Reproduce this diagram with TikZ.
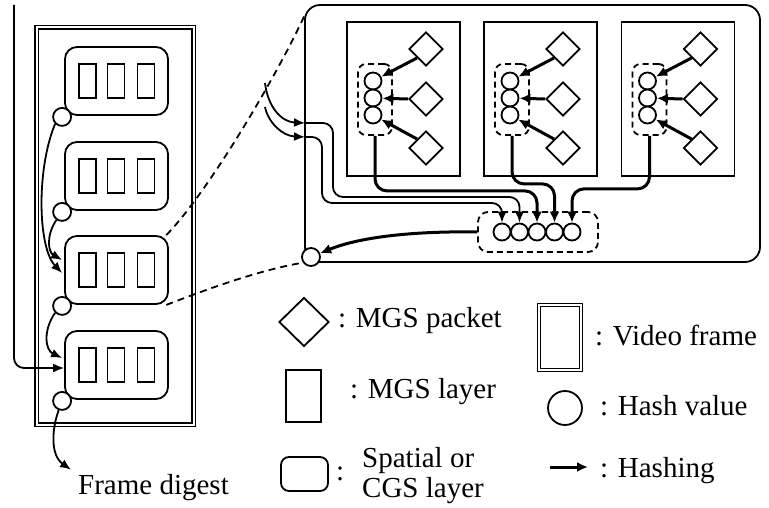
\documentclass[tikz,border=0pt]{standalone}
\usepackage{fontspec}
\setmainfont{Liberation Serif}
\usetikzlibrary{shapes.geometric,arrows.meta,calc}
\begin{document}
\begin{tikzpicture}[x=1pt,y=-1pt,
  ln/.style={line width=1.8pt},
  layerblk/.style={draw, ln, rounded corners=12pt, minimum width=103pt, minimum height=68pt, inner sep=0pt},
  mgsrect/.style={draw, line width=1.6pt, minimum width=17pt, minimum height=34pt, inner sep=0pt},
  hashc/.style={draw, ln, circle, minimum size=17pt, inner sep=0pt, fill=white},
  pkt/.style={draw, ln, diamond, minimum width=34pt, minimum height=34pt, inner sep=0pt},
  arr/.style={ln, -{Latex[length=11pt,width=9pt]}},
  harr/.style={line width=3pt, -{Latex[length=11pt,width=10pt]}},
  grp/.style={draw, ln, dash pattern=on 6pt off 4pt, rounded corners=8pt, inner sep=0pt},
  dsh/.style={ln, dash pattern=on 7pt off 5pt},
  vframe/.style={draw, line width=1.4pt, double, double distance=2pt, inner sep=0pt},
  lbl/.style={font=\fontsize{29}{30}\selectfont, inner sep=0pt, anchor=base west}
]
\useasboundingbox (0,0) rectangle (769,508);

% video frame
\node[vframe, minimum width=157pt, minimum height=397pt] (frame) at (115,226) {};
\foreach \i/\y in {1/81,2/176,3/270,4/365} {
  \node[layerblk] (b\i) at (116.5,\y) {};
  \node[mgsrect] (b\i-m1) at (87.5,\y) {};
  \node[mgsrect] (b\i-m2) at (116,\y) {};
  \node[mgsrect] (b\i-m3) at (146,\y) {};
  \node[hashc, minimum size=18pt] (h\i) at ($(b\i.south west)+(-2,1)$) {};
}

% chaining inside the frame
\coordinate (top) at (14,5);
\draw[arr, rounded corners=10pt] (top) |- ($(b4.west)+(0,3)$);
\draw[arr] (h1.225) .. controls (36,170) and (38,248) .. ($(b3.west)+(-2,3)$);
\draw[arr] (h2.235) .. controls (46,235) and (48,252) .. ($(b3.west)+(-2,-10)$);
\draw[arr] (h3.225) .. controls (43,330) and (45,350) .. ($(b4.west)+(-2,-7)$);
\node[lbl] (fd) at (78,494) {Frame digest};
\draw[arr] (h4.250) .. controls (52,428) and (50,455) .. ($(fd.north west)+(-7,-4)$);

% expanded layer
\node[draw, ln, rounded corners=15pt, minimum width=455pt, minimum height=257pt, inner sep=0pt] (big) at (532.5,133.5) {};
\foreach \i/\x in {1/403.5,2/540.5,3/678} {
  \node[draw, ln, minimum width=113pt, minimum height=154pt, inner sep=0pt] (m\i) at (\x,99) {};
  \node[grp, minimum width=34pt, minimum height=71pt] (g\i) at ($(m\i.center)+(-28.5,0.5)$) {};
  \node[hashc] (m\i-c1) at ($(m\i.center)+(-30.5,-18)$) {};
  \node[hashc] (m\i-c2) at ($(m\i.center)+(-30.5,-1)$) {};
  \node[hashc] (m\i-c3) at ($(m\i.center)+(-30.5,16)$) {};
  \node[pkt] (m\i-d1) at ($(m\i.center)+(22.5,-50)$) {};
  \node[pkt] (m\i-d2) at ($(m\i.center)+(22.5,0)$) {};
  \node[pkt] (m\i-d3) at ($(m\i.center)+(22.5,49)$) {};
  \draw[harr] (m\i-d1.south west) -- (m\i-c1);
  \draw[harr] (m\i-d2.west) -- (m\i-c2);
  \draw[harr] (m\i-d3.north west) -- (m\i-c3);
}

% bottom row of hash values
\node[grp, rounded corners=10pt, minimum width=120pt, minimum height=40pt] (rg) at (538,232) {};
\foreach \k in {1,...,5} {
  \node[hashc] (r\k) at ({502+17.5*(\k-1)},232) {};
}
\draw[harr, rounded corners=12pt] (g1.south) -- ++(0,55) -| (r3.north);
\draw[harr, rounded corners=12pt] (g2.south) -- ++(0,48) -| (r4.north);
\draw[harr, rounded corners=12pt] (g3.south) -- ++(0,53) -| (r5.north);

% incoming thin lines
\coordinate (s1) at (265,83);
\coordinate (s2) at (265,107);
\coordinate (in1) at (305,123);
\coordinate (in2) at (305,137);
\draw[arr] (s1) .. controls (268,108) and (282,122) .. (in1);
\draw[arr] (s2) .. controls (268,122) and (282,136) .. (in2);
\draw[arr, rounded corners=10pt] (in1) -- ++(28,0) -- ++(0,74) -| (r2.north);
\draw[arr, rounded corners=10pt] (in2) -- ++(17,0) -- ++(0,66) -| (r1.north);

% corner hash value
\node[hashc, minimum size=18pt] (hc) at (311,257) {};
\draw[harr] (rg.west) .. controls (420,231) and (362,236) .. (hc);

% dashed zoom lines
\draw[dsh] (b3.35) .. controls (210,190) and (280,70) .. ($(big.north west)+(2,8)$);
\draw[dsh] (b3.-35) .. controls (210,288) and (260,270) .. (hc.215);

% legend
\node[pkt, minimum width=50pt, minimum height=49pt] (ld) at (304,322) {};
\node[lbl] (ldt) at (338,327) {: MGS packet};
\node[draw, ln, minimum width=35pt, minimum height=52pt, inner sep=0pt] (lr) at (303.5,396) {};
\node[lbl] (lrt) at (350,398) {: MGS layer};
\node[draw, ln, rounded corners=8pt, minimum width=47pt, minimum height=34pt, inner sep=0pt] (ls) at (304.5,474) {};
\node[lbl] (lsc) at (336,480) {:};
\node[lbl] (ls1) at (362,467) {Spatial or};
\node[lbl] (ls2) at (362,497) {CGS layer};
\node[vframe, minimum width=42pt, minimum height=65pt] (lv) at (560,337.5) {};
\node[lbl] (lvt) at (595,345) {: Video frame};
\node[draw, ln, circle, minimum size=34pt, inner sep=0pt] (lh) at (565,408) {};
\node[lbl] (lht) at (600,415) {: Hash value};
\coordinate (la1) at (550,467);
\coordinate (la2) at (588,467);
\draw[harr] (la1) -- (la2);
\node[lbl] (lat) at (600,477) {: Hashing};
\end{tikzpicture}
\end{document}
